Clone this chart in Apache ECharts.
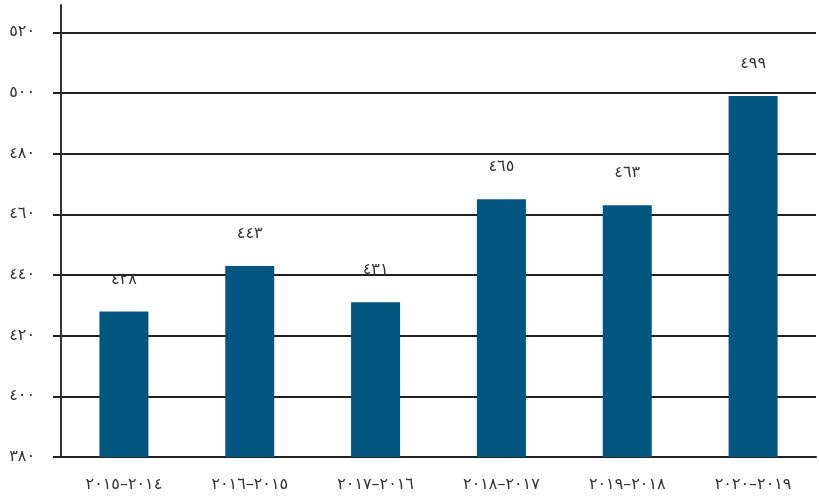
<!DOCTYPE html>
<html>
<head>
<meta charset="utf-8">
<script src="https://cdn.jsdelivr.net/npm/echarts@6/dist/echarts.min.js"></script>
<style>html,body{margin:0;padding:0;background:#fff}#c{width:819px;height:497px}</style>
</head>
<body>
<div id="c"></div>
<script>
const categories = ['٢٠١٤–٢٠١٥', '٢٠١٥–٢٠١٦', '٢٠١٦–٢٠١٧', '٢٠١٧–٢٠١٨', '٢٠١٨–٢٠١٩', '٢٠١٩–٢٠٢٠'];
const values = [428, 443, 431, 465, 463, 499];
const yMin = 380, yMax = 529, yStep = 20;

const toArabic = n => String(n).replace(/[0-9]/g, d => '٠١٢٣٤٥٦٧٨٩'[+d]);
const FONT = '"DejaVu Sans", sans-serif';

const chart = echarts.init(document.getElementById('c'));
chart.setOption({
  animation: false,
  grid: { left: 61, right: 3, top: 5, bottom: 40 },
  xAxis: {
    type: 'category',
    data: categories,
    axisLine: { lineStyle: { color: '#222', width: 2 } },
    axisTick: { show: false },
    axisLabel: { color: '#333', fontSize: 16, fontFamily: FONT, margin: 20 }
  },
  yAxis: {
    type: 'value',
    min: yMin, max: yMax, interval: yStep,
    axisLine: { show: true, lineStyle: { color: '#333', width: 2 } },
    axisTick: { show: true, length: 8, lineStyle: { color: '#222', width: 2 } },
    splitLine: { show: true, showMaxLine: false, lineStyle: { color: '#222', width: 2 } },
    axisLabel: { showMaxLabel: false, color: '#333', fontSize: 16, fontFamily: FONT, margin: 26,
      padding: [0, 0, 7, 0],
      formatter: v => toArabic(v) }
  },
  series: [{
    type: 'bar',
    data: values,
    barWidth: 49,
    itemStyle: { color: '#02567f' },
    label: { show: true, position: 'top', distance: 24, color: '#333', fontSize: 16, fontFamily: FONT,
      formatter: p => toArabic(p.value) }
  }]
});
</script>
</body>
</html>
